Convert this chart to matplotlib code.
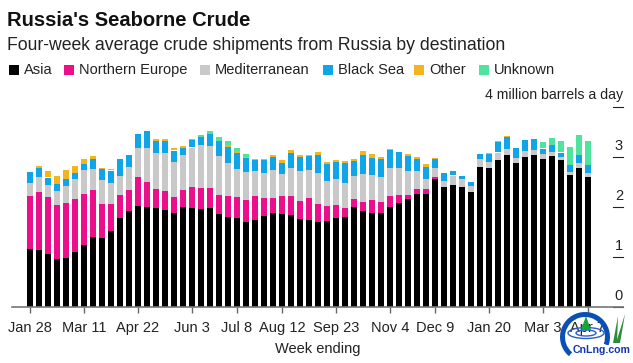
import matplotlib
matplotlib.use("Agg")
import matplotlib.pyplot as plt
from matplotlib.patches import Rectangle, Wedge, Ellipse, Polygon

W, H = 633, 363

asia = [1.17, 1.15, 1.07, 0.97, 0.99, 1.11, 1.25, 1.41, 1.39, 1.53, 1.79, 1.93, 2.03, 2.01, 1.99, 1.95,
        1.89, 2.01, 1.99, 1.97, 1.99, 1.87, 1.81, 1.79, 1.71, 1.75, 1.83, 1.89, 1.87, 1.85, 1.77, 1.75,
        1.71, 1.73, 1.79, 1.81, 2.01, 1.93, 1.89, 1.89, 2.01, 2.09, 2.17, 2.27, 2.27, 2.57, 2.41, 2.45,
        2.41, 2.31, 2.81, 2.79, 2.95, 3.05, 2.89, 3.01, 3.05, 2.97, 3.03, 2.95, 2.65, 2.79, 2.61]
northern_europe = [1.06, 1.16, 1.14, 1.08, 1.10, 1.06, 1.02, 0.94, 0.68, 0.54, 0.46, 0.42, 0.58, 0.50, 0.38, 0.38,
                   0.32, 0.34, 0.42, 0.42, 0.40, 0.38, 0.42, 0.42, 0.44, 0.48, 0.36, 0.30, 0.36, 0.38, 0.36, 0.44,
                   0.36, 0.30, 0.26, 0.18, 0.16, 0.18, 0.26, 0.22, 0.22, 0.16, 0.08, 0.10, 0.09, 0.04, 0, 0,
                   0, 0, 0, 0, 0, 0, 0, 0, 0, 0, 0, 0, 0, 0, 0]
mediterranean = [0.26, 0.30, 0.24, 0.28, 0.34, 0.40, 0.48, 0.42, 0.48, 0.42, 0.38, 0.46, 0.58, 0.68, 0.72, 0.76,
                 0.70, 0.70, 0.78, 0.86, 0.84, 0.78, 0.66, 0.56, 0.56, 0.50, 0.50, 0.56, 0.44, 0.56, 0.60, 0.56,
                 0.62, 0.50, 0.52, 0.50, 0.46, 0.56, 0.50, 0.50, 0.56, 0.54, 0.48, 0.36, 0.20, 0.18, 0.12, 0.18,
                 0.16, 0.12, 0.16, 0.12, 0.14, 0.12, 0.10, 0.12, 0.10, 0.10, 0.08, 0.06, 0.06, 0.10, 0.08]
black_sea = [0.22, 0.18, 0.14, 0.14, 0.14, 0.12, 0.12, 0.20, 0.22, 0.24, 0.34, 0.24, 0.28, 0.34, 0.24, 0.24,
             0.22, 0.14, 0.14, 0.16, 0.24, 0.30, 0.32, 0.32, 0.28, 0.22, 0.26, 0.26, 0.22, 0.30, 0.28, 0.28,
             0.36, 0.34, 0.34, 0.40, 0.30, 0.38, 0.34, 0.36, 0.36, 0.31, 0.30, 0.24, 0.24, 0.18, 0.16, 0.08,
             0.06, 0.08, 0.09, 0.16, 0.20, 0.24, 0.20, 0.22, 0.21, 0.10, 0.14, 0.08, 0.14, 0.16, 0.16]
other = [0, 0.04, 0.12, 0.16, 0.18, 0.14, 0.10, 0.06, 0.02, 0.02, 0, 0, 0, 0, 0.03, 0.03,
         0.04, 0.04, 0.01, 0, 0, 0, 0.04, 0.04, 0.02, 0.02, 0.02, 0.04, 0.06, 0.06, 0.04, 0.02,
         0.06, 0.04, 0.04, 0.04, 0.04, 0.08, 0.08, 0.04, 0.01, 0, 0.04, 0.04, 0.06, 0.01, 0, 0,
         0, 0, 0, 0.02, 0.02, 0.02, 0, 0, 0, 0, 0, 0, 0, 0, 0]
unknown = [0, 0, 0, 0, 0, 0, 0, 0, 0, 0, 0, 0, 0, 0, 0, 0,
           0, 0, 0.01, 0.04, 0.06, 0.08, 0.08, 0.06, 0.06, 0, 0, 0, 0, 0, 0, 0,
           0, 0, 0, 0, 0, 0, 0, 0, 0, 0, 0, 0, 0, 0, 0, 0,
           0, 0, 0, 0, 0, 0, 0, 0, 0, 0.12, 0.14, 0.22, 0.36, 0.40, 0.48]

series_names = ["Asia", "Northern Europe", "Mediterranean", "Black Sea", "Other", "Unknown"]
colors = ["#000000", "#ec0f8c", "#c9c9c9", "#10a5e8", "#f2b61c", "#4fe49e"]
tick_weeks = [0, 6, 12, 18, 23, 28, 34, 40, 45, 51, 57, 62]
tick_labels = ["Jan 28", "Mar 11", "Apr 22", "Jun 3", "Jul 8", "Aug 12", "Sep 23", "Nov 4",
               "Dec 9", "Jan 20", "Mar 3", "Apr 7"]
y_ticks = [0, 1, 2, 3, 4]

plt.rcParams["font.family"] = ["Liberation Sans", "DejaVu Sans"]
fig = plt.figure(figsize=(W / 100, H / 100), dpi=100)
ax = fig.add_axes([12 / W, 1 - 307 / H, 611 / W, 200 / H])

weeks = list(range(len(asia)))
bottom = [0.0] * len(asia)
for values, name, color in zip([asia, northern_europe, mediterranean, black_sea, other, unknown], series_names, colors):
    ax.bar(weeks, values, bottom=bottom, width=0.7, color=color, linewidth=0, label=name)
    bottom = [b + v for b, v in zip(bottom, values)]

ax.set_xlim(-2, 65.9)
ax.set_ylim(0, 4)
for side in ["top", "left", "right"]:
    ax.spines[side].set_visible(False)
ax.spines["bottom"].set_color("#777777")
ax.spines["bottom"].set_linewidth(1.2)
ax.set_xticks(tick_weeks)
ax.set_xticklabels(tick_labels, fontsize=10.5, color="#222222")
ax.tick_params(axis="x", length=4, width=1, color="#666666", pad=6)
ax.set_yticks([])
ax.set_xlabel("Week ending", fontsize=10.5, color="#222222", labelpad=5)

# y scale sits on the right, short dash with the number above it
for v in y_ticks:
    ax.plot([64.8, 65.9], [v, v], color="#222222", linewidth=0.8, clip_on=False)
for v in y_ticks[:-1]:
    ax.text(65.9, v + 0.08, str(v), ha="right", va="bottom", fontsize=10.5, color="#222222")
ax.text(65.9, 4.1, "4 million barrels a day", ha="right", va="bottom", fontsize=10.2, color="#222222")


def fx(px):
    return px / W


def fy(px):
    return 1 - px / H


fig.text(fx(7), fy(20), "Russia's Seaborne Crude", fontsize=14.5, fontweight="bold", color="#111111", va="center")
fig.text(fx(7), fy(45), "Four-week average crude shipments from Russia by destination", fontsize=12.68,
         color="#222222", va="center")

swatch_x = [9, 64, 200, 323, 414, 479]
for x, name, color in zip(swatch_x, series_names, colors):
    fig.add_artist(Rectangle((fx(x), fy(75)), 10 / W, 10 / H, facecolor=color, edgecolor="none",
                             transform=fig.transFigure))
    fig.text(fx(x + 15), fy(70), name, fontsize=10.5, color="#222222", va="center")

# watermark in the lower right corner
logo = fig.add_axes([0, 0, 1, 1], facecolor="none")
logo.set_xlim(0, W)
logo.set_ylim(H, 0)
logo.axis("off")
logo.add_patch(Wedge((585, 337), 25, 130, 20, width=5, facecolor="#0a4fb5", edgecolor="none"))
logo.add_patch(Ellipse((586, 333), 36, 11, facecolor="none", edgecolor="#2a5fd0", linewidth=1))
logo.add_patch(Ellipse((586, 333), 20, 6, facecolor="none", edgecolor="#2a5fd0", linewidth=1))
logo.add_patch(Polygon([(586, 316), (581, 330), (591, 330)], facecolor="#12a838", edgecolor="none"))
logo.add_patch(Polygon([(613, 343), (618, 316), (617, 343)], facecolor="#2e8b3a", edgecolor="none"))
logo.add_patch(Polygon([(616, 343), (625, 314), (620, 343)], facecolor="#2e8b3a", edgecolor="none"))
logo.text(602, 350, "CnLng.com", fontsize=7.6, fontweight="bold", color="#1238b0", ha="center", va="center",
          bbox=dict(facecolor="white", edgecolor="none", pad=0.3))

fig.savefig("out.png", dpi=100, facecolor="white")
plt.close(fig)
